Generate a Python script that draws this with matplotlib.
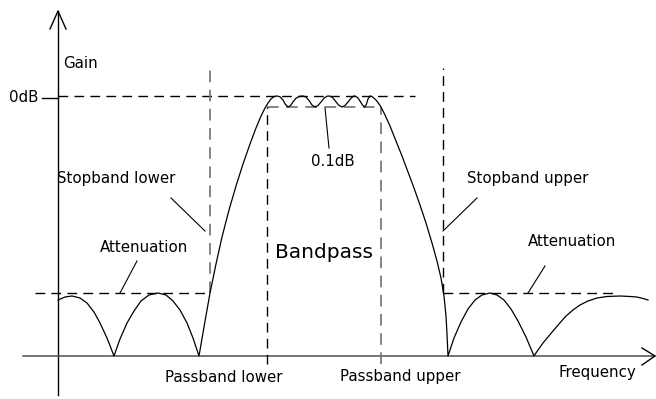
import matplotlib.pyplot as plt

# 坐标: x 为频率(像素刻度), y 为增益(基线 0)
W, H = 656, 399
base_px = 356  # 横轴在图中的像素行

# 响应曲线的读数点
freq = [58, 65, 72, 80, 87, 94, 100, 107, 114,
        120, 127, 134, 141, 149, 158, 166, 173, 180, 187, 193, 199,
        204, 210, 216, 222, 229, 236, 243, 250, 256, 261, 265, 268, 271, 274,
        277, 280, 283, 285.5, 288, 290.5, 293, 296, 300,
        303, 306, 309, 312, 315, 318, 321, 324, 327,
        329, 332, 335, 338.5, 342, 345, 348, 351, 353.5,
        355, 357.5, 360, 362.5, 365, 366.5, 368, 370, 372,
        376, 379, 381, 385, 390, 396, 402, 408, 414, 420, 426, 432, 437, 441, 444, 446, 447, 448,
        454, 461, 468, 475, 482, 490, 497, 504, 511, 518, 526, 534,
        538, 543, 548, 553, 559, 566, 573, 580, 588, 597, 607, 620, 630, 637, 643, 648]
gain = [56, 59, 60, 58, 53, 44, 33, 18, 0,
        17, 33, 45, 55, 61, 63, 61, 55, 46, 33, 18, 0,
        29, 63, 92, 119, 146, 170, 192, 212, 228, 240, 248, 253, 257, 259.5,
        260, 259.2, 256, 251.5, 249, 250.5, 254, 257.8, 259.8,
        260, 259, 255.5, 251, 249, 250.5, 254, 257.8, 259.8,
        260, 259, 255.5, 251, 249, 250.5, 254, 257.8, 259.8,
        260, 258.5, 255, 251, 249, 252, 257, 260, 259.5,
        256, 252, 249, 241, 230, 215, 200, 184, 168, 151, 133, 113, 95, 78, 60, 40, 22, 0,
        18, 34, 47, 56, 61, 63, 61, 56, 47, 35, 19, 0,
        6, 13, 19, 25, 32, 40, 46, 51, 55, 58, 59.5, 60, 59.5, 59, 57.5, 56]

# 参考电平与频带边界
zero_db = 260
ripple_db = 249
atten = 63
stop_lo, pass_lo, pass_hi, stop_hi = 210, 267, 381, 443

fig = plt.figure(figsize=(W / 100, H / 100), dpi=100)
ax = fig.add_axes([0, 0, 1, 1])
ax.set_xlim(0, W)
ax.set_ylim(base_px - H, base_px)
ax.axis('off')

font = dict(family='DejaVu Sans', fontsize=10.8, color='black')
dash = (0, (7, 4.5))
grey = '#707070'

# 坐标轴 + 箭头
ax.plot([58, 58], [-39, 345], color='black', lw=1)
ax.plot([50, 58, 66], [327, 345, 327], color='black', lw=1)
ax.plot([23, 655], [0, 0], color='#505050', lw=1.1)
ax.plot([642, 655, 642], [8, 0, -9], color='black', lw=1)
ax.plot([42, 58], [258, 258], color='black', lw=1)

# 虚线
ax.plot([58, 415], [zero_db, zero_db], color='black', lw=1, linestyle=dash)
ax.plot([pass_lo, pass_hi], [ripple_db, ripple_db], color=grey, lw=1.2, linestyle=dash)
ax.plot([stop_lo, stop_lo], [atten, 288], color=grey, lw=1.2, linestyle=dash)
ax.plot([stop_hi, stop_hi], [atten, 288], color='black', lw=1, linestyle=dash)
ax.plot([pass_lo, pass_lo], [-8, ripple_db], color='black', lw=1, linestyle=dash)
ax.plot([pass_hi, pass_hi], [-8, ripple_db], color=grey, lw=1.2, linestyle=dash)
ax.plot([35, stop_lo], [atten, atten], color='black', lw=1, linestyle=dash)
ax.plot([stop_hi, 613], [atten, atten], color='black', lw=1, linestyle=dash)

# 响应曲线
ax.plot(freq, gain, color='black', lw=0.9)

# 引线
ax.plot([171, 205], [158, 125], color='black', lw=0.8)
ax.plot([137, 120], [95, atten], color='black', lw=0.8)
ax.plot([477, 443], [158, 125], color='black', lw=0.8)
ax.plot([545, 528], [90, atten], color='black', lw=0.8)
ax.plot([325, 329], [248, 208], color='black', lw=0.8)

# 文字
ax.text(63, 293, 'Gain', ha='left', va='center', **font)
ax.text(38, 258, '0dB', ha='right', va='center', **font)
ax.text(333, 194, '0.1dB', ha='center', va='center', **font)
ax.text(57, 178, 'Stopband lower', ha='left', va='center', **font)
ax.text(100, 109, 'Attenuation', ha='left', va='center', **font)
ax.text(467, 178, 'Stopband upper', ha='left', va='center', **font)
ax.text(528, 115, 'Attenuation', ha='left', va='center', **font)
ax.text(224, -21, 'Passband lower', ha='center', va='center', **font)
ax.text(400, -20, 'Passband upper', ha='center', va='center', **font)
ax.text(558, -16, 'Frequency', ha='left', va='center', **font)
ax.text(275, 103, 'Bandpass', ha='left', va='center', family='DejaVu Sans',
        fontsize=14.5, color='black')

fig.savefig('out.png', dpi=100)
